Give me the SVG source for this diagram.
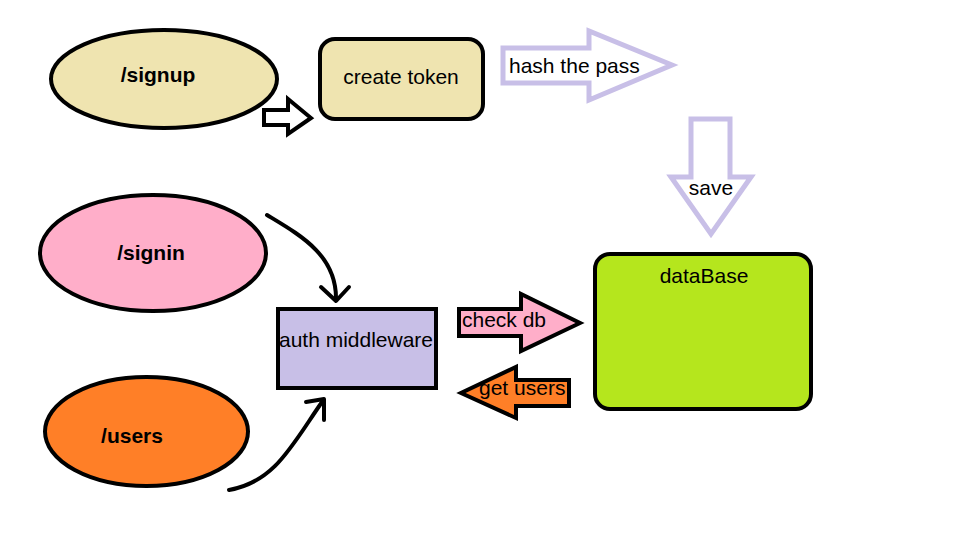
<svg xmlns="http://www.w3.org/2000/svg" width="959" height="547" viewBox="0 0 959 547">
<style>
text{font-family:"Liberation Sans",Arial,sans-serif;font-size:21px;fill:#000}
.b{font-weight:bold}
.k{stroke:#000;stroke-width:4}
.lav{fill:#fff;stroke:#c8bfe7;stroke-width:5;stroke-linejoin:miter}
.line{fill:none;stroke:#000;stroke-width:4;stroke-linecap:round;stroke-linejoin:round}
</style>
<rect width="959" height="547" fill="#fff"/>
<g id="signup">
<ellipse class="k" cx="164" cy="79" rx="113" ry="49" fill="#efe4b0"/>
<text class="b" x="158" y="82" text-anchor="middle">/signup</text>
</g>
<g id="create-token">
<rect class="k" x="320" y="39" width="163" height="80" rx="15" fill="#efe4b0"/>
<text x="401" y="84" text-anchor="middle">create token</text>
</g>
<g id="signin">
<ellipse class="k" cx="153" cy="253" rx="113" ry="58" fill="#ffaec9"/>
<text class="b" x="151" y="260" text-anchor="middle">/signin</text>
</g>
<g id="users">
<ellipse class="k" cx="146.5" cy="431.5" rx="101.5" ry="54.5" fill="#ff7f27"/>
<text class="b" x="132" y="443" text-anchor="middle">/users</text>
</g>
<g id="auth-middleware">
<rect class="k" x="278" y="309" width="158" height="79" fill="#c8bfe7"/>
<text x="356" y="347" text-anchor="middle">auth middleware</text>
</g>
<g id="database">
<rect class="k" x="595" y="254" width="216" height="155" rx="15" fill="#b5e61d"/>
<text x="704" y="283" text-anchor="middle">dataBase</text>
</g>
<g id="connectors">
<polygon class="k" points="264,110 288,110 288,99 311,118 288,134 288,125 264,125" fill="#fff" stroke-linejoin="miter"/>
<polygon class="lav" points="503,48 589,48 589,31 672,65 589,100 589,83 503,83"/>
<text x="509" y="73">hash the pass</text>
<polygon class="lav" points="691,119 730,119 730,177 751,177 711,234 671,177 691,177"/>
<text x="711" y="195" text-anchor="middle">save</text>
<polygon class="k" points="459,309 521,309 521,294 580,323 521,351 521,336 459,336" fill="#ffaec9" stroke-linejoin="miter"/>
<text x="462" y="327">check db</text>
<polygon class="k" points="569,380 516,380 516,367 461,393 516,418 516,406 569,406" fill="#ff7f27" stroke-linejoin="miter"/>
<text x="479" y="395">get users</text>
<path class="line" d="M267,215 C300,235 337,255 336,300"/>
<polyline class="line" points="321,287 336,301 349,287"/>
<path class="line" d="M229,490 C275,482 292,445 322,402"/>
<polyline class="line" points="306,402 324,399 324,420"/>
</g>
</svg>
